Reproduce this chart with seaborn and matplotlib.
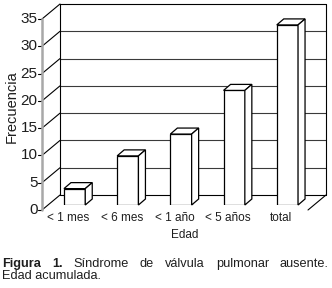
import matplotlib
matplotlib.use("Agg")
import matplotlib.pyplot as plt
import pandas as pd
import seaborn as sns
from matplotlib.patches import Polygon
from matplotlib.transforms import IdentityTransform, offset_copy

# ---------------------------------------------------------------------------
# Data
# ---------------------------------------------------------------------------
edades = ["< 1 mes", "< 6 mes", "< 1 año", "< 5 años", "total"]
frecuencia = [3, 9, 13, 21, 33]
yticks = [0, 5, 10, 15, 20, 25, 30, 35]

# caption (justified in the original)
caption_line1 = [("Figura", "bold"), ("1.", "bold"), ("Síndrome", "normal"),
                 ("de", "normal"), ("válvula", "normal"),
                 ("pulmonar", "normal"), ("ausente.", "normal")]
caption_line2 = "Edad acumulada."

# ---------------------------------------------------------------------------
# Style
# ---------------------------------------------------------------------------
sns.set_style("white")
plt.rcParams["font.family"] = ["Liberation Sans", "DejaVu Sans"]
txt_col = "#1e1e1e"

W, H = 332, 288
fig = plt.figure(figsize=(W / 100, H / 100), dpi=100)
# axes = plane of the bar fronts (mid-depth of the 3D box)
ax = fig.add_axes([48 / W, 1 - 205 / H, 266 / W, 191 / H])

df = pd.DataFrame({"Edad": edades, "Frecuencia": frecuencia})
sns.barplot(data=df, x="Edad", y="Frecuencia", color="white", saturation=1,
            edgecolor="black", linewidth=0.9, width=0.4, ax=ax, zorder=4)
ax.set_xlim(-0.5, len(edades) - 0.5)
ax.set_ylim(0, 35)
ax.axis("off")

# offsets (dots) for the front and back planes of the 3D box
front = offset_copy(ax.transData, fig=fig, x=-6, y=-5, units="dots")
back = offset_copy(ax.transData, fig=fig, x=12, y=10, units="dots")
ident = IdentityTransform()
x_lo, x_hi = -0.5, len(edades) - 0.5


def seg(p, q, **kw):
    ax.plot([p[0], q[0]], [p[1], q[1]], transform=ident, clip_on=False, **kw)


# back wall
for k in yticks:
    col = "black" if k in (0, 35) else "#3a3a3a"
    ax.plot([x_lo, x_hi], [k, k], transform=back, color=col, lw=0.8,
            clip_on=False, zorder=1)
for xv in (x_lo, x_hi):
    ax.plot([xv, xv], [0, 35], transform=back, color="black", lw=0.8,
            clip_on=False, zorder=1)

# left wall diagonals + ticks + labels
for k in yticks:
    p = front.transform((x_lo, k))
    q = back.transform((x_lo, k))
    seg(p, q, color="black", lw=0.8, zorder=1)
    seg((p[0] - 4, p[1]), p, color="black", lw=0.8, zorder=2)
    fig.text((p[0] - 4.5) / W, p[1] / H, str(k), ha="right", va="center",
             fontsize=11, color=txt_col)

# front y axis (gray)
ax.plot([x_lo, x_lo], [0, 35], transform=front, color="#a8a8a8", lw=1.8,
        clip_on=False, zorder=2)

# floor right edge
seg(front.transform((x_hi, 0)), back.transform((x_hi, 0)),
    color="black", lw=0.8, zorder=1)

# 3D faces of the bars
dx, dy = 7, 6
for patch in ax.patches:
    x0, w, h = patch.get_x(), patch.get_width(), patch.get_height()
    a = ax.transData.transform((x0, h))
    b = ax.transData.transform((x0 + w, h))
    c = ax.transData.transform((x0 + w, 0))
    top = [a, b, (b[0] + dx, b[1] + dy), (a[0] + dx, a[1] + dy)]
    side = [c, b, (b[0] + dx, b[1] + dy), (c[0] + dx, c[1] + dy)]
    for poly in (top, side):
        ax.add_patch(Polygon(poly, closed=True, facecolor="white",
                             edgecolor="black", lw=0.9, transform=ident,
                             clip_on=False, zorder=4))

# category labels on the front plane
for i, lab in enumerate(edades):
    p = front.transform((i, 0))
    fig.text(p[0] / W, (p[1] - 2) / H, lab, ha="center", va="top",
             fontsize=8.5, color=txt_col)

fig.text(12 / W, 1 - 107 / H, "Frecuencia", rotation=90, ha="center",
         va="center", fontsize=10.5, color=txt_col)
fig.text(185 / W, 1 - 235 / H, "Edad", ha="center", va="center",
         fontsize=8.5, color=txt_col)

# justified first caption line
words = [fig.text(0, 1 - 264 / H, w, ha="left", va="center", fontsize=9.2,
                  fontweight=wt, color=txt_col) for w, wt in caption_line1]
renderer = fig.canvas.get_renderer()
widths = [t.get_window_extent(renderer).width for t in words]
left, right = 2, 329
gap = (right - left - sum(widths)) / (len(words) - 1)
xpos = left
for t, wd in zip(words, widths):
    t.set_x(xpos / W)
    xpos += wd + gap
fig.text(2 / W, 1 - 276 / H, caption_line2, ha="left", va="center",
         fontsize=9.2, color=txt_col)

fig.savefig("out.png", dpi=100)
